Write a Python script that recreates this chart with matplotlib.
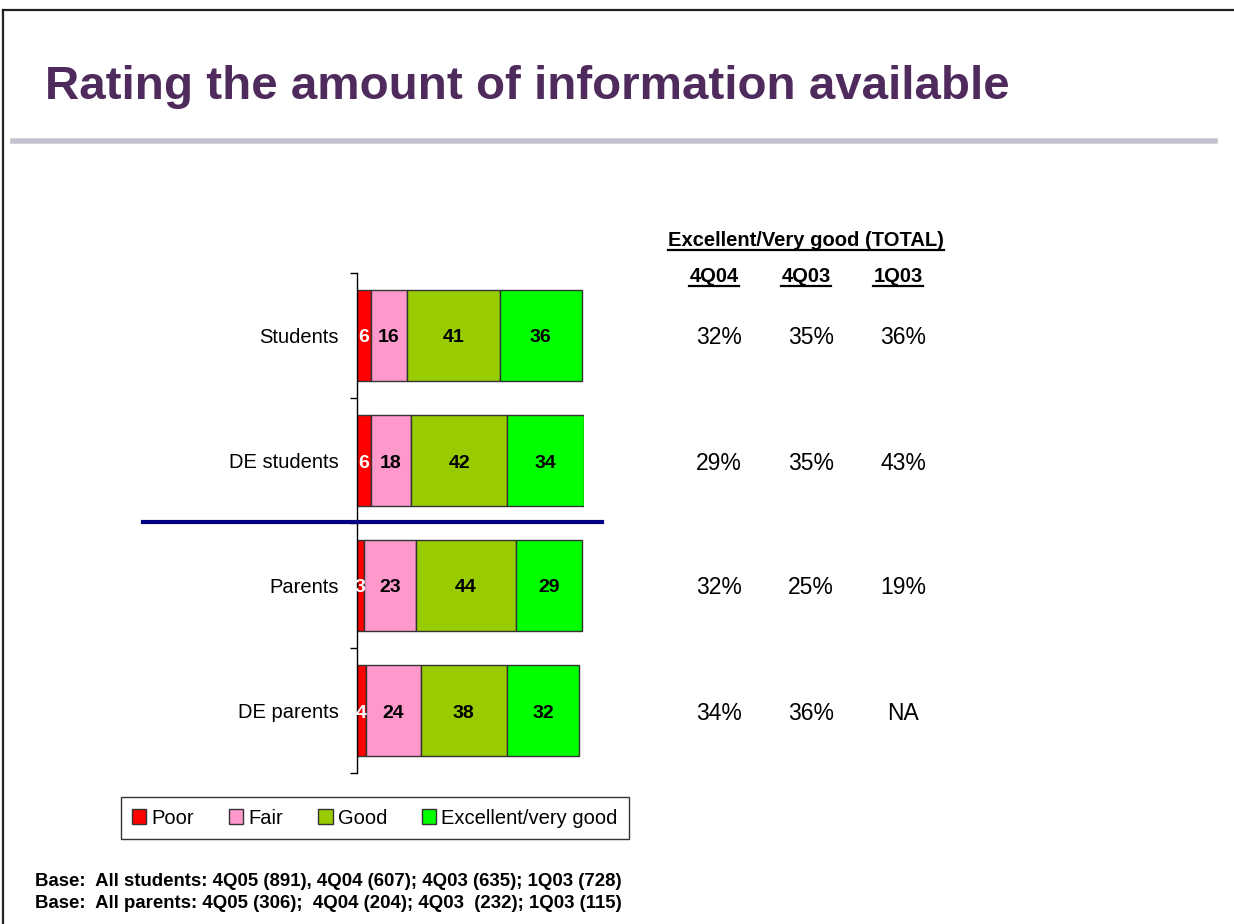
"""Rating the amount of information available"""

import matplotlib.pyplot as plt
import numpy as np
from matplotlib.lines import Line2D
from matplotlib.patches import Patch
import matplotlib.transforms as mtransforms

plt.rcParams["font.family"] = ["Liberation Sans", "DejaVu Sans"]

categories = ["Students", "DE students", "Parents", "DE parents"]
poor = [6, 6, 3, 4]
fair = [16, 18, 23, 24]
good = [41, 42, 44, 38]
excellent = [36, 34, 29, 32]

series_names = ["Poor", "Fair", "Good", "Excellent/very good"]
series_colors = ["#FF0000", "#FF99CC", "#99CC00", "#00FF00"]
label_colors = ["white", "black", "black", "black"]

table_title = "Excellent/Very good (TOTAL)"
table_cols = ["4Q04", "4Q03", "1Q03"]
total_4q04 = ["32%", "29%", "32%", "34%"]
total_4q03 = ["35%", "35%", "25%", "36%"]
total_1q03 = ["36%", "43%", "19%", "NA"]

base_notes = [
    "Base:  All students: 4Q05 (891), 4Q04 (607); 4Q03 (635); 1Q03 (728)",
    "Base:  All parents: 4Q05 (306);  4Q04 (204); 4Q03  (232); 1Q03 (115)",
]

W, H = 1234, 924
fig = plt.figure(figsize=(W / 100, H / 100), dpi=100)


def fx(px):
    return px / W


def fy(py):
    return 1 - py / H


# slide frame
fig.add_artist(Line2D([fx(3), 1.0], [fy(10), fy(10)], color="#222222", lw=1.6))
fig.add_artist(Line2D([fx(3), fx(3)], [fy(10), 0.0], color="#222222", lw=1.6))

# title and rule
fig.text(fx(45), fy(87), "Rating the amount of information available",
         fontsize=34.2, fontweight="bold", color="#4F2A5C", va="center", ha="left")
fig.add_artist(Line2D([fx(13), fx(1215)], [fy(141), fy(141)], color="#C3C3CF", lw=4))

# bars
ax = fig.add_axes([fx(357), fy(773), fx(584) - fx(357), (773 - 273) / H])
y = np.arange(len(categories))
left = np.zeros(len(categories))
for vals, name, col, lcol in zip([poor, fair, good, excellent], series_names,
                                 series_colors, label_colors):
    vals = np.array(vals, dtype=float)
    ax.barh(y, vals, left=left, height=0.73, color=col, edgecolor="#333333",
            linewidth=1.0, label=name)
    for yi, l, v in zip(y, left, vals):
        ax.text(l + v / 2, yi + 0.02, f"{int(v)}", ha="center", va="center",
                fontsize=14, fontweight="bold", color=lcol)
    left += vals

ax.set_xlim(0, 100)
ax.set_ylim(3.5, -0.5)
for s in ["top", "right", "bottom"]:
    ax.spines[s].set_visible(False)
ax.spines["left"].set_linewidth(1.0)
ax.set_xticks([])
ax.set_yticks(y)
ax.set_yticklabels(categories, fontsize=14.5)
ax.tick_params(axis="y", which="major", length=0, pad=13)
ax.set_yticks(np.arange(-0.5, 4.0, 1.0), minor=True)
ax.tick_params(axis="y", which="minor", length=5, width=1.0, direction="out")
ax.patch.set_alpha(0)

# divider between students and parents
fig.add_artist(Line2D([fx(143), fx(602)], [fy(522), fy(522)], color="#000080", lw=3))

# table on the right
fig.canvas.draw()
renderer = fig.canvas.get_renderer()


def underlined(x, yy, s, size):
    t = fig.text(x, yy, s, fontsize=size, fontweight="bold", ha="center", va="center")
    bb = t.get_window_extent(renderer=renderer)
    yline = bb.y0
    fig.add_artist(Line2D([bb.x0 / W, bb.x1 / W], [yline / H, yline / H],
                          color="black", lw=1.6))


underlined(fx(806), fy(240), table_title, 14.5)
col_x = [714, 806, 898]
for cx, name in zip(col_x, table_cols):
    underlined(fx(cx), fy(277), name, 14.5)

trans = mtransforms.blended_transform_factory(fig.transFigure, ax.transData)
for cx, col_vals in zip(col_x, [total_4q04, total_4q03, total_1q03]):
    for yi, v in zip(y, col_vals):
        fig.text(fx(cx + 5), yi + 0.02, v, transform=trans, fontsize=16.5,
                 ha="center", va="center")

# legend
handles = [Patch(facecolor=c, edgecolor="#333333", lw=1.0) for c in series_colors]
leg = fig.legend(handles, series_names, loc="center", ncol=4,
                 bbox_to_anchor=(fx(375), fy(818)), fontsize=14.5, frameon=True,
                 fancybox=False, edgecolor="black", handlelength=0.7,
                 handleheight=0.7, handletextpad=0.25, columnspacing=1.75,
                 borderpad=0.55)
leg.get_frame().set_linewidth(1.0)

# base notes
for i, note in enumerate(base_notes):
    fig.text(fx(35), fy(881 + 22 * i), note, fontsize=13.4, fontweight="bold",
             ha="left", va="center")

plt.savefig("out.png", dpi=100)
plt.close()
